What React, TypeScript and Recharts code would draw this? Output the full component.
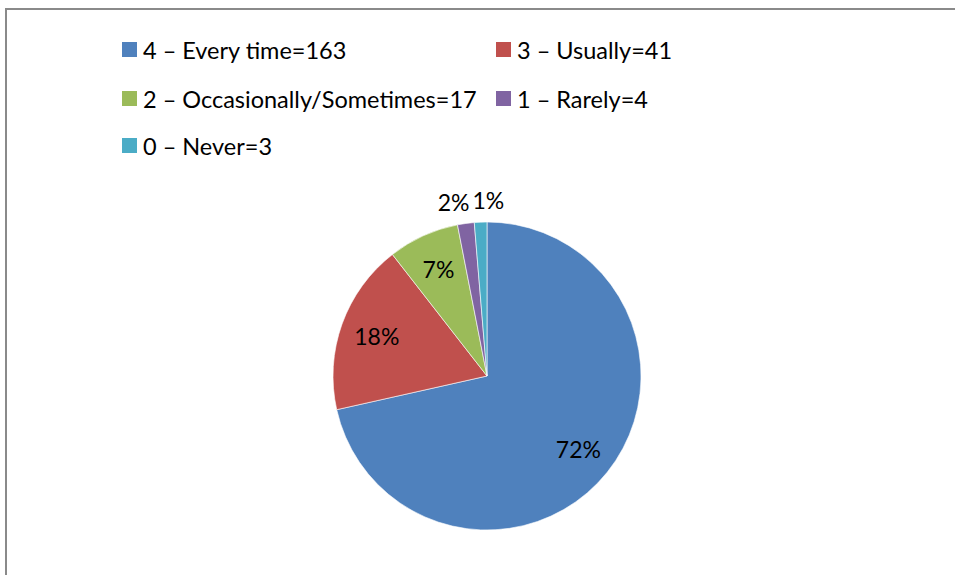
import { PieChart, Pie, Cell } from 'recharts'

const categories = [
  '4 – Every time',
  '3 – Usually',
  '2 – Occasionally/Sometimes',
  '1 – Rarely',
  '0 – Never',
]
const counts = [163, 41, 17, 4, 3]
const sliceColors = ['#4F81BD', '#C0504D', '#9BBB59', '#8064A2', '#4BACC6']

const FONT = 'Lato, "Open Sans", sans-serif'
const total = counts.reduce((a, b) => a + b, 0)
const data = categories.map((name, i) => ({ name: `${name}=${counts[i]}`, value: counts[i] }))

// whole percentages that add up to 100, the way the spreadsheet rounds them
const percents = (() => {
  const raw = counts.map((c) => (c / total) * 100)
  const out = raw.map(Math.floor)
  let left = 100 - out.reduce((a, b) => a + b, 0)
  const order = raw.map((r, i) => i).sort((a, b) => (raw[b] - out[b]) - (raw[a] - out[a]))
  for (const i of order) {
    if (left <= 0) break
    out[i] += 1
    left -= 1
  }
  return out
})()

const RAD = Math.PI / 180

function renderLabel(props: any) {
  const { cx, cy, midAngle, outerRadius, index } = props
  const pct = percents[index]
  const small = pct < 5
  let x: number
  let y: number
  let anchor: 'middle' | 'start' | 'end' = 'middle'
  if (small) {
    // the two thin slices share the gap at their common edge
    const r = outerRadius + 22
    const before = counts.slice(0, counts.length - 1).reduce((a, b) => a + b, 0)
    const edge = 90 - (before / total) * 360
    x = cx + r * Math.cos(-edge * RAD) + (index === counts.length - 1 ? 0 : -3)
    y = cy + r * Math.sin(-midAngle * RAD)
    anchor = index === counts.length - 1 ? 'start' : 'end'
  } else {
    const r = outerRadius * 0.76
    x = cx + r * Math.cos(-midAngle * RAD)
    y = cy + r * Math.sin(-midAngle * RAD)
  }
  return (
    <text
      x={x}
      y={y}
      textAnchor={anchor}
      dominantBaseline="central"
      fill="#000"
      fontSize={23}
      fontFamily={FONT}
    >
      {pct}%
    </text>
  )
}

function LegendBox() {
  const colX = [122, 496]
  const rowY = [42, 91, 138]
  return (
    <div style={{ position: 'absolute', left: 0, top: 0, width: 955, height: 170 }}>
      {data.map((d, i) => (
        <div
          key={d.name}
          style={{
            position: 'absolute',
            left: colX[i % 2],
            top: rowY[Math.floor(i / 2)],
            display: 'flex',
            alignItems: 'center',
            height: 15,
            whiteSpace: 'nowrap',
          }}
        >
          <span style={{ width: 15, height: 15, background: sliceColors[i], display: 'inline-block' }} />
          <span style={{ marginLeft: 6, fontSize: 23.5, fontFamily: FONT, color: '#000' }}>{d.name}</span>
        </div>
      ))}
    </div>
  )
}

export default function App() {
  return (
    <div style={{ position: 'fixed', left: 0, top: 0, width: 955, height: 575, overflow: 'hidden', background: '#fff' }}>
      <div
        style={{
          position: 'absolute',
          left: 5,
          top: 8,
          width: 1000,
          height: 700,
          border: '2px solid #8a8a8a',
        }}
      />
      <PieChart
        width={955}
        height={575}
        margin={{ top: 0, right: 0, bottom: 0, left: 0 }}
        style={{ position: 'absolute', left: 0, top: 0 }}
      >
        <Pie
          data={data}
          dataKey="value"
          nameKey="name"
          cx={487}
          cy={376}
          outerRadius={154}
          startAngle={90}
          endAngle={-270}
          stroke="#ffffff"
          strokeWidth={0.6}
          label={renderLabel}
          labelLine={false}
          isAnimationActive={false}
        >
          {data.map((d, i) => (
            <Cell key={d.name} fill={sliceColors[i]} />
          ))}
        </Pie>
      </PieChart>
      <LegendBox />
    </div>
  )
}
